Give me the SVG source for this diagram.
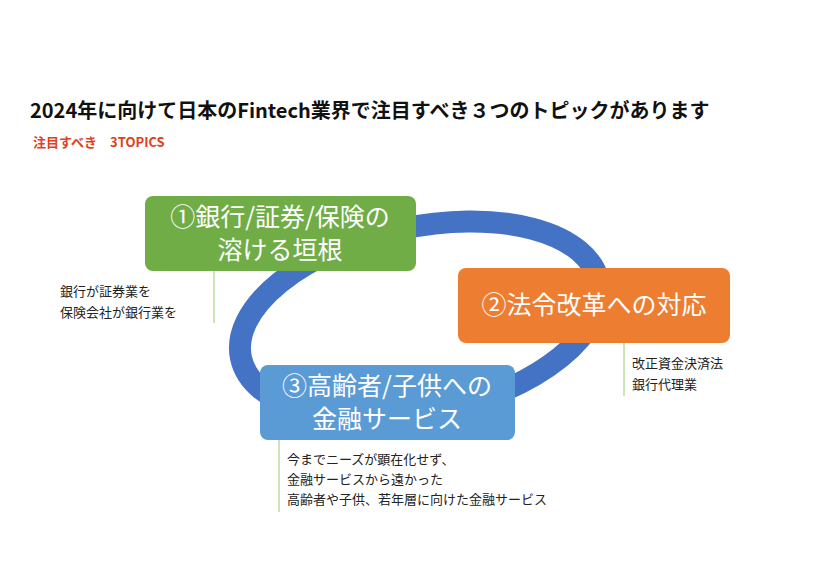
<svg xmlns="http://www.w3.org/2000/svg" width="820" height="575" viewBox="0 0 820 575">
<style>
.t{font-family:"Noto Sans CJK JP","Noto Sans",sans-serif}
.bx{fill:#fff;font-size:25px}
.n{font-size:13px;fill:#222}
.ln{stroke:#9ACB6E;stroke-width:1}
</style>
<rect width="820" height="575" fill="#fff"/>
<text class="t" x="30" y="118" font-size="20" font-weight="bold" fill="#111">2024年に向けて日本のFintech業界で注目すべき３つのトピックがあります</text>
<text class="t" x="33" y="147" font-size="13" font-weight="bold" fill="#E0401C">注目すべき　3TOPICS</text>
<g id="connectors">
<ellipse cx="420" cy="320" rx="183" ry="93" transform="rotate(-12 420 320)" fill="none" stroke="#4472C4" stroke-width="22"/>
<line class="ln" x1="214" y1="271" x2="214" y2="323"/>
<line class="ln" x1="624" y1="343" x2="624" y2="396" stroke="#ccc"/>
<line class="ln" x1="279" y1="440" x2="279" y2="512" stroke="#5B9BD5"/>
</g>
<g id="n1"><rect x="145" y="196" width="271" height="75" rx="8" fill="#70AD47"/>
<text class="t bx" x="280" y="226" text-anchor="middle">①銀行/証券/保険の</text>
<text class="t bx" x="280" y="259" text-anchor="middle">溶ける垣根</text></g>
<g id="n2"><rect x="458" y="268" width="272" height="75" rx="8" fill="#ED7D31"/>
<text class="t bx" x="594" y="314" text-anchor="middle">②法令改革への対応</text></g>
<g id="n3"><rect x="260" y="365" width="255" height="75" rx="8" fill="#5B9BD5"/>
<text class="t bx" x="387" y="395" text-anchor="middle">③高齢者/子供への</text>
<text class="t bx" x="387" y="428" text-anchor="middle">金融サービス</text></g>
<g id="note1"><text class="t n" x="60" y="296">銀行が証券業を</text><text class="t n" x="60" y="317">保険会社が銀行業を</text></g>
<g id="note2"><text class="t n" x="632" y="368">改正資金決済法</text><text class="t n" x="632" y="389">銀行代理業</text></g>
<g id="note3"><text class="t n" x="287" y="464">今までニーズが顕在化せず、</text><text class="t n" x="287" y="484">金融サービスから遠かった</text><text class="t n" x="287" y="504">高齢者や子供、若年層に向けた金融サービス</text></g>
</svg>
